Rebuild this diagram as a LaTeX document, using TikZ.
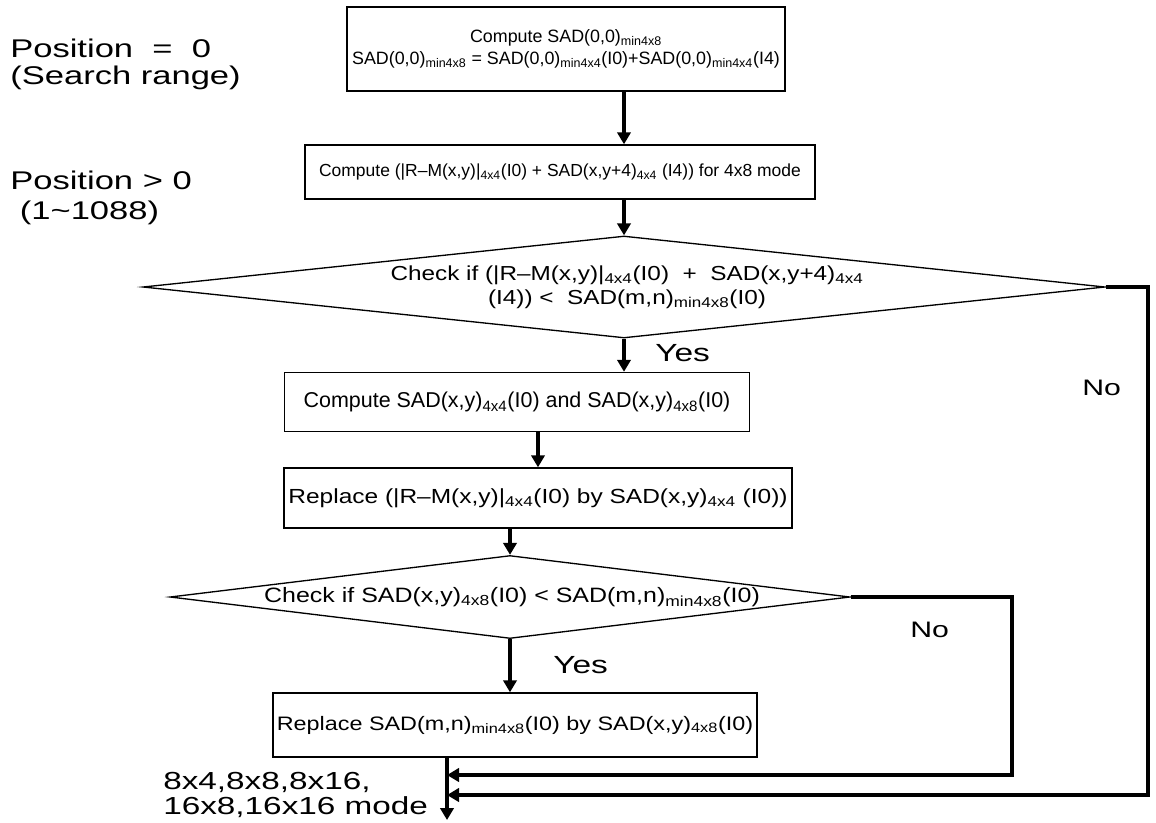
\documentclass[tikz,border=0pt]{standalone}
\usepackage{fontspec}
\setmainfont{Liberation Sans}
\newfontfamily\widefont[FakeStretch=1.2]{Liberation Sans}
\newfontfamily\xwidefont[FakeStretch=1.35]{Liberation Sans}
\usetikzlibrary{arrows.meta,shapes.geometric}
\newcommand{\lsub}[1]{\textsubscript{#1}}

\begin{document}
\begin{tikzpicture}[x=0.75pt,y=-0.75pt,
    box/.style={draw,line width=1.1pt,inner sep=0pt,align=center},
    cond/.style={draw,diamond,line width=1pt,inner sep=0pt},
    flow/.style={line width=3pt,-{Triangle[length=9pt,width=10pt]}},
    lab/.style={anchor=west,align=left,inner sep=0pt}]
  \useasboundingbox (0,0) rectangle (1156,822);
  \draw
    (566,49) node[box,minimum width=328.5pt,minimum height=63pt,font=\fontsize{13.4}{16}\selectfont] (b1)
      {Compute SAD(0,0)\lsub{min4x8}\\SAD(0,0)\lsub{min4x8} = SAD(0,0)\lsub{min4x4}(I0)+SAD(0,0)\lsub{min4x4}(I4)}
    (560,172) node[box,minimum width=382.5pt,minimum height=40.5pt,font=\fontsize{13.1}{15}\selectfont] (b2)
      {Compute (|R\textendash M(x,y)|\lsub{4x4}(I0) + SAD(x,y+4)\lsub{4x4} (I4)) for 4x8 mode}
    (624,287) node[cond,minimum width=721.5pt,minimum height=76.5pt] (d1) {}
    (627,287) node[align=center,inner sep=0pt,font=\widefont\fontsize{15.2}{18}\selectfont] (d1t)
      {Check if (|R\textendash M(x,y)|\lsub{4x4}(I0) \ + \ SAD(x,y+4)\lsub{4x4}\\(I4)) < \ SAD(m,n)\lsub{min4x8}(I0)}
    (517,402) node[box,minimum width=348.75pt,minimum height=44.25pt,font=\fontsize{16.1}{18}\selectfont] (b3)
      {Compute SAD(x,y)\lsub{4x4}(I0) and SAD(x,y)\lsub{4x8}(I0)}
    (538,498) node[box,minimum width=381pt,minimum height=45pt,font=\widefont\fontsize{15.3}{18}\selectfont] (b4)
      {Replace (|R\textendash M(x,y)|\lsub{4x4}(I0) by SAD(x,y)\lsub{4x4} (I0))}
    (510,597) node[cond,minimum width=510pt,minimum height=62.25pt] (d2) {}
    (512,597) node[inner sep=0pt,font=\widefont\fontsize{15.6}{18}\selectfont] (d2t)
      {Check if SAD(x,y)\lsub{4x8}(I0) < SAD(m,n)\lsub{min4x8}(I0)}
    (515,725) node[box,minimum width=363pt,minimum height=48pt,font=\widefont\fontsize{14.6}{17}\selectfont] (b5)
      {Replace SAD(m,n)\lsub{min4x8}(I0) by SAD(x,y)\lsub{4x8}(I0)};
  \draw
    (10,64) node[lab,font=\xwidefont\fontsize{19.2}{20.3}\selectfont] (pos0)
      {Position\hspace{0.75em}=\hspace{0.75em}0\\(Search range)}
    (10,198) node[lab,font=\xwidefont\fontsize{19.2}{22}\selectfont] (pos1) {Position > 0\\\ (1\textasciitilde1088)}
    (655,353) node[lab,font=\xwidefont\fontsize{18.6}{22}\selectfont] (yes1) {Yes}
    (553,665) node[lab,font=\xwidefont\fontsize{18.6}{22}\selectfont] (yes2) {Yes}
    (1082,388) node[lab,font=\xwidefont\fontsize{16.8}{22}\selectfont] (no1) {No}
    (910,630) node[lab,font=\xwidefont\fontsize{16.8}{22}\selectfont] (no2) {No}
    (163,795) node[lab,font=\xwidefont\fontsize{18.5}{19}\selectfont] (modes) {8x4,8x8,8x16,\\16x8,16x16 mode};
  \coordinate (j1) at (447,775);
  \coordinate (j2) at (447,795);
  \coordinate (r1) at (1148,795);
  \coordinate (r2) at (1012,775);
  \coordinate (out) at (447,820);
  \begin{scope}[flow]
    \draw (b1.south -| d1.north) to (b2.north -| d1.north);
    \draw (b2.south -| d1.north) to (d1.north);
    \draw (d1.south) to (b3.north -| d1.south);
    \draw (b3.south -| b4.north) to (b4.north);
    \draw (b4.south -| d2.north) to (d2.north);
    \draw (d2.south) to (b5.north -| d2.south);
    \draw (d1.east) -| (r1) -- (j2);
    \draw (d2.east) -| (r2) -- (j1);
    \draw (b5.south -| j1) to (out);
  \end{scope}
\end{tikzpicture}
\end{document}
